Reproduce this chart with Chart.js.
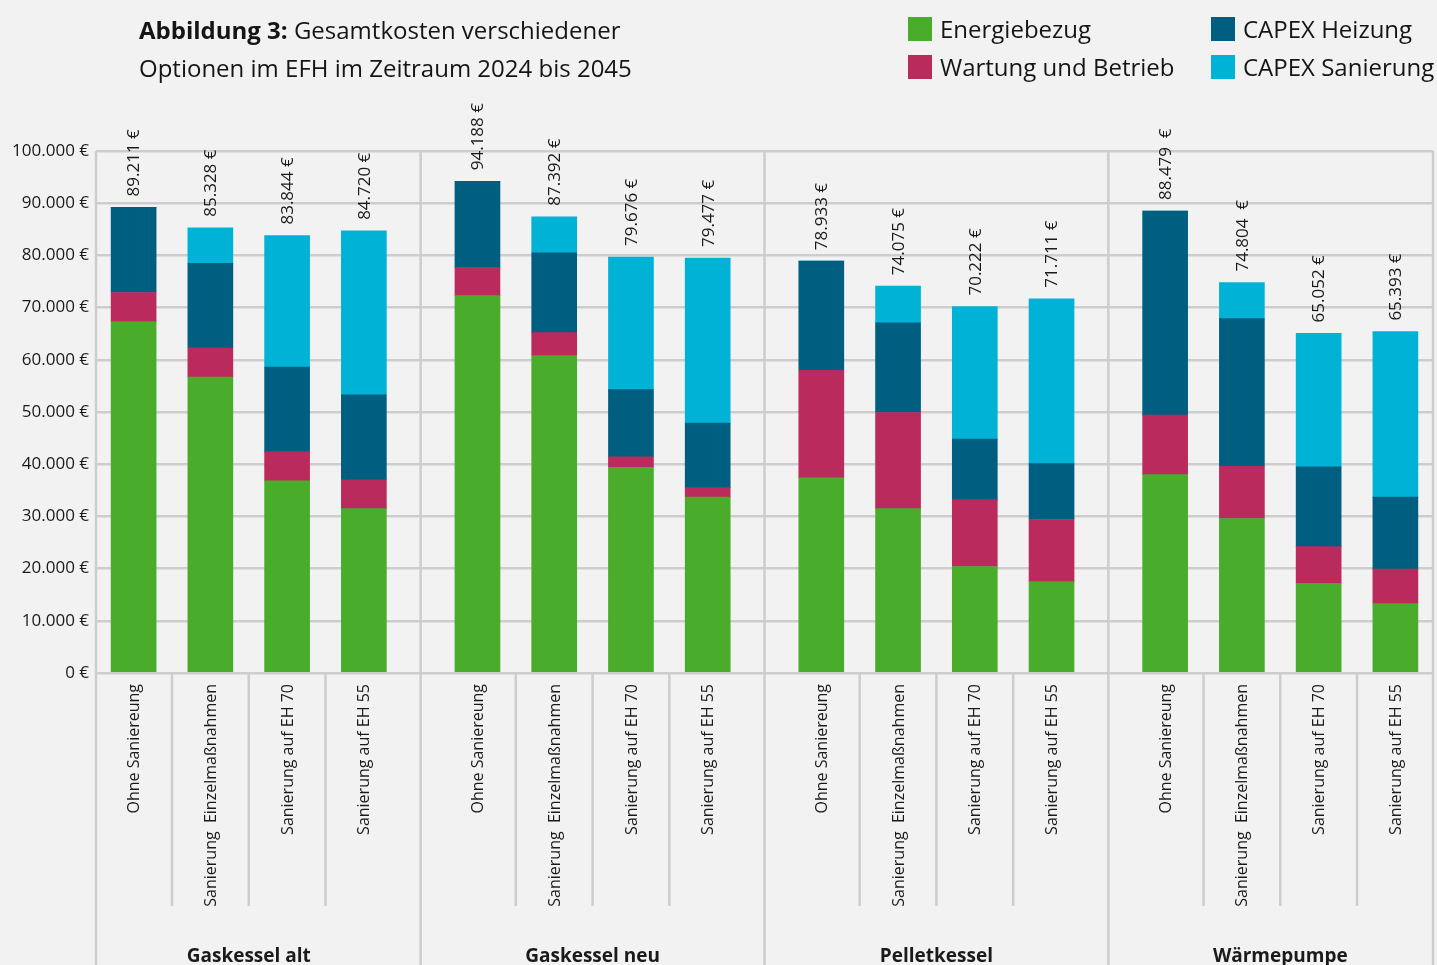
<!DOCTYPE html>
<html><head><meta charset="utf-8">
<script src="https://cdn.jsdelivr.net/npm/chart.js@4.4.1/dist/chart.umd.min.js"></script>
<style>
html,body{margin:0;padding:0;background:#f2f2f2;width:1437px;height:965px;overflow:hidden;font-family:"Open Sans",sans-serif;color:#151515;}
#wrap{position:relative;width:1437px;height:965px;}
#c{position:absolute;left:0;top:0;}
.title{position:absolute;left:139px;top:11px;font-size:24px;line-height:38px;white-space:nowrap;}
.leg{position:absolute;font-size:24px;line-height:38px;white-space:nowrap;display:flex;align-items:center;}
.sw{display:inline-block;width:24px;height:24px;margin-right:8px;}
</style></head>
<body><div id="wrap">
<canvas id="c" width="1437" height="965"></canvas>
<div class="title"><b>Abbildung 3:</b> Gesamtkosten verschiedener<br>Optionen im EFH im Zeitraum 2024 bis 2045</div>
<div id="legend"></div>
</div>
<script>
const groups = ['Gaskessel alt', 'Gaskessel neu', 'Pelletkessel', 'Wärmepumpe'];
const options = ['Ohne Saniereung', 'Sanierung  Einzelmaßnahmen', 'Sanierung auf EH 70', 'Sanierung auf EH 55'];
const totalLabels = ['89.211 €', '85.328 €', '83.844 €', '84.720 €',
                     '94.188 €', '87.392 €', '79.676 €', '79.477 €',
                     '78.933 €', '74.075 €', '70.222 €', '71.711 €',
                     '88.479  €', '74.804  €', '65.052 €', '65.393 €'];
const energiebezug   = [67300, 56700, 36800, 31500, 72300, 60800, 39400, 33700, 37400, 31500, 20400, 17500, 38000, 29600, 17200, 13300];
const wartungBetrieb = [5600, 5600, 5600, 5500, 5400, 4400, 2000, 1800, 20600, 18400, 12800, 11900, 11400, 10000, 7000, 6600];
const capexHeizung   = [16300, 16200, 16200, 16300, 16500, 15300, 12900, 12400, 20900, 17200, 11600, 10700, 39100, 28300, 15300, 13800];
const capexSanierung = [0, 6800, 25200, 31400, 0, 6900, 25400, 31600, 0, 7000, 25400, 31600, 0, 6900, 25550, 31700];
const yTicks = [0, 10000, 20000, 30000, 40000, 50000, 60000, 70000, 80000, 90000, 100000];

const seriesNames = ['Energiebezug', 'Wartung und Betrieb', 'CAPEX Heizung', 'CAPEX Sanierung'];
const seriesColors = ['#49ac2a', '#bb2a5c', '#005e80', '#00b3d6'];
const seriesData = [energiebezug, wartungBetrieb, capexHeizung, capexSanierung];

// legend (HTML)
const legendPos = [[908, 10], [908, 48], [1211, 10], [1211, 48]];
const legEl = document.getElementById('legend');
seriesNames.forEach((name, s) => {
  const d = document.createElement('div');
  d.className = 'leg';
  d.style.left = legendPos[s][0] + 'px';
  d.style.top = legendPos[s][1] + 'px';
  d.innerHTML = '<span class="sw" style="background:' + seriesColors[s] + '"></span>' + name;
  legEl.appendChild(d);
});

const nOpt = options.length;
const groupGap = 0.48;
const edgePad = 0.49;
function xPos(i) { const g = Math.floor(i / nOpt), j = i % nOpt; return g * (nOpt + groupGap) + j; }
const nBars = groups.length * nOpt;
const xMin = -edgePad, xMax = xPos(nBars - 1) + edgePad;

function fmt(v) { return String(v).replace(/\B(?=(\d{3})+(?!\d))/g, '.') + ' €'; }

const datasets = seriesData.map((arr, s) => ({
  label: seriesNames[s],
  data: arr.map((v, i) => ({ x: xPos(i), y: v })),
  backgroundColor: seriesColors[s],
  borderWidth: 0,
  barThickness: 45
}));

const lineColor = '#cdcdcd';
const decor = {
  id: 'decor',
  beforeDatasetsDraw(chart) {
    const { ctx, chartArea: ca, scales: { x } } = chart;
    ctx.save();
    ctx.strokeStyle = lineColor;
    ctx.lineWidth = 2.5;
    const bottom = chart.height;
    const seps = [ca.left, ca.right];
    for (let g = 0; g < groups.length - 1; g++) {
      seps.push(x.getPixelForValue(g * (nOpt + groupGap) + (nOpt - 1) + (1 + groupGap) / 2));
    }
    seps.forEach(px => { ctx.beginPath(); ctx.moveTo(px, ca.top); ctx.lineTo(px, bottom); ctx.stroke(); });
    for (let g = 0; g < groups.length; g++) {
      for (let j = 0; j < nOpt - 1; j++) {
        const px = x.getPixelForValue(g * (nOpt + groupGap) + j + 0.5);
        ctx.beginPath(); ctx.moveTo(px, ca.bottom); ctx.lineTo(px, ca.bottom + 233); ctx.stroke();
      }
    }
    ctx.restore();
  },
  afterDraw(chart) {
    const { ctx, chartArea: ca, scales: { x, y } } = chart;
    ctx.save();
    ctx.fillStyle = '#1a1a1a';
    ctx.font = '17px "Open Sans"';
    for (let i = 0; i < nBars; i++) {
      const tot = seriesData.reduce((a, arr) => a + arr[i], 0);
      const px = x.getPixelForValue(xPos(i)) + 1;
      const py = y.getPixelForValue(tot) - 11;
      ctx.save(); ctx.translate(px, py); ctx.rotate(-Math.PI / 2);
      ctx.textAlign = 'left'; ctx.textBaseline = 'middle';
      ctx.fillText(totalLabels[i], 0, 0);
      ctx.restore();
    }
    ctx.font = '16px "Open Sans"';
    for (let i = 0; i < nBars; i++) {
      const px = x.getPixelForValue(xPos(i)) + 1;
      ctx.save(); ctx.translate(px, ca.bottom + 11); ctx.rotate(-Math.PI / 2);
      ctx.textAlign = 'right'; ctx.textBaseline = 'middle';
      ctx.fillText(options[i % nOpt], 0, 0);
      ctx.restore();
    }
    ctx.font = 'bold 19px "Open Sans"';
    ctx.textAlign = 'center'; ctx.textBaseline = 'alphabetic';
    groups.forEach((gName, g) => {
      const c = (x.getPixelForValue(xPos(g * nOpt)) + x.getPixelForValue(xPos(g * nOpt + nOpt - 1))) / 2;
      ctx.fillText(gName, c, 962);
    });
    ctx.restore();
  }
};

new Chart(document.getElementById('c'), {
  type: 'bar',
  data: { datasets },
  options: {
    responsive: false,
    animation: false,
    layout: { padding: { top: 151, right: 4, bottom: 292, left: 0 } },
    plugins: { legend: { display: false }, tooltip: { enabled: false }, title: { display: false } },
    scales: {
      x: { type: 'linear', stacked: true, display: false, offset: false, min: xMin, max: xMax },
      y: {
        stacked: true, min: 0, max: 100000,
        afterBuildTicks(scale) { scale.ticks = yTicks.map(v => ({ value: v })); },
        afterFit(scale) { scale.width = 96; },
        ticks: { callback: v => fmt(v), font: { family: 'Open Sans', size: 17 }, color: '#1a1a1a', padding: 7 },
        grid: { color: lineColor, lineWidth: 2.5, drawTicks: false },
        border: { display: false }
      }
    }
  },
  plugins: [decor]
});
</script>
</body></html>
